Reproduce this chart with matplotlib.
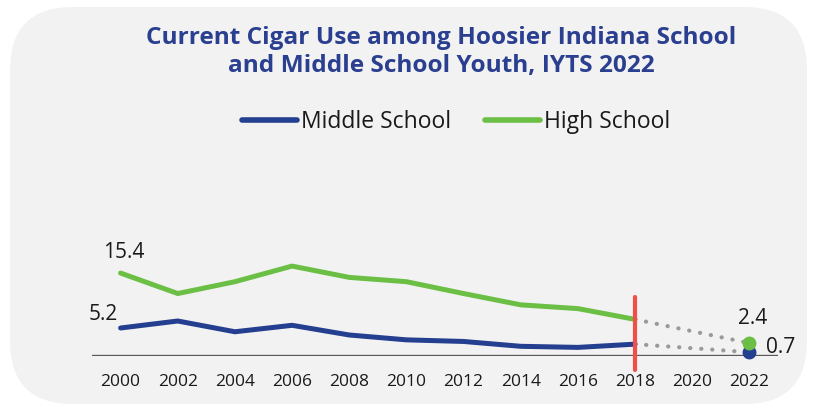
import matplotlib
matplotlib.use("Agg")
import matplotlib.pyplot as plt
from matplotlib.patches import FancyBboxPatch
from matplotlib.lines import Line2D

# survey years and percentages
years = [2000, 2002, 2004, 2006, 2008, 2010, 2012, 2014, 2016, 2018]
middle = [5.2, 6.5, 4.5, 5.7, 3.9, 3.0, 2.7, 1.8, 1.6, 2.2]
high = [15.4, 11.6, 13.8, 16.7, 14.6, 13.8, 11.6, 9.5, 8.8, 6.8]
year_new = 2022
middle_new = 0.7
high_new = 2.4
tick_years = list(range(2000, 2023, 2))

blue = "#243e90"
green = "#6cbf45"
grey_dot = "#9a9a9a"
red = "#ef4f48"
txt = "#1a1a1a"

plt.rcParams["font.family"] = ["Open Sans", "DejaVu Sans"]

W, H = 817, 405
fig = plt.figure(figsize=(W / 100, H / 100), dpi=100)
fig.patch.set_facecolor("white")

# rounded panel behind everything
bg = fig.add_axes([0, 0, 1, 1])
bg.set_xlim(0, W)
bg.set_ylim(0, H)
bg.axis("off")
bg.add_patch(FancyBboxPatch((10, 1), 797, 397, boxstyle="round,pad=0,rounding_size=63",
                            facecolor="#f2f2f2", edgecolor="none"))

ax = fig.add_axes([92 / W, (H - 356) / H, (778 - 92) / W, (356 - 160) / H])
ax.set_facecolor("none")
ax.set_xlim(1999, 2023)
ax.set_ylim(0, 36.4)
for s in ax.spines.values():
    s.set_visible(False)
ax.set_yticks([])
ax.set_xticks(tick_years)
ax.tick_params(axis="x", length=0, pad=13, labelsize=12.5, labelcolor=txt)

ax.axhline(0, color="#5a5a5a", lw=1.7, zorder=1)

ax.plot(years, middle, color=blue, lw=3.6, solid_capstyle="round", zorder=3, clip_on=False)
ax.plot(years, high, color=green, lw=3.6, solid_capstyle="round", zorder=3, clip_on=False)

# projected gap to 2022
for y0, y1 in [(middle[-1], middle_new), (high[-1], high_new)]:
    ax.plot([years[-1], year_new], [y0, y1], color=grey_dot, lw=3.0,
            linestyle=(0, (0.05, 2.6)), dash_capstyle="round", zorder=2, clip_on=False)

ax.plot([year_new], [middle_new], "o", color=blue, ms=9, zorder=4, clip_on=False)
ax.plot([year_new], [high_new], "o", color=green, ms=9, zorder=5, clip_on=False)

ax.plot([2018, 2018], [-2.6, 11.0], color=red, lw=3, solid_capstyle="round", zorder=6, clip_on=False)

lab = dict(fontsize=15, color=txt, textcoords="offset points")
ax.annotate(f"{high[0]}", (years[0], high[0]), xytext=(2, 15), ha="center", va="center", **lab)
ax.annotate(f"{middle[0]}", (years[0], middle[0]), xytext=(-2, 9.5), ha="right", va="center", **lab)
ax.annotate(f"{high_new}", (year_new, high_new), xytext=(2, 18), ha="center", va="center", **lab)
ax.annotate(f"{middle_new}", (year_new, middle_new), xytext=(12, 3.5), ha="left", va="center", **lab)

fig.text(441 / W, 1 - 52 / H, "Current Cigar Use among Hoosier Indiana School\nand Middle School Youth, IYTS 2022",
         ha="center", va="center", fontsize=17.6, fontweight="bold", color="#2b3f90",
         family=["Open Sans", "DejaVu Sans"], linespacing=1.2)

handles = [Line2D([], [], color=blue, lw=4, solid_capstyle="round"),
           Line2D([], [], color=green, lw=4, solid_capstyle="round")]
fig.legend(handles, ["Middle School", "High School"], loc="center",
           bbox_to_anchor=(456 / W, 1 - 122 / H), ncol=2, frameon=False,
           fontsize=16.5, handlelength=2.4, handletextpad=0.15, columnspacing=1.5,
           labelcolor=txt)

fig.savefig("out.png", dpi=100, facecolor="white")
